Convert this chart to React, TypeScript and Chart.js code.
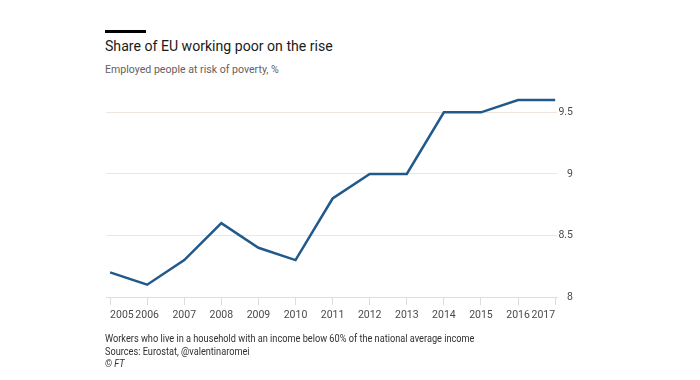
import React, { useEffect, useRef } from "react";
import { Chart, registerables } from "chart.js";

Chart.register(...registerables);

const years = [2005, 2006, 2007, 2008, 2009, 2010, 2011, 2012, 2013, 2014, 2015, 2016, 2017];
const shareWorkingPoor = [8.2, 8.1, 8.3, 8.6, 8.4, 8.3, 8.8, 9.0, 9.0, 9.5, 9.5, 9.6, 9.6];
const yTicks = [8, 8.5, 9, 9.5];

const FONT = "Roboto, 'Noto Sans', sans-serif";

export default function App() {
  const canvasRef = useRef<HTMLCanvasElement | null>(null);

  useEffect(() => {
    document.body.style.margin = "0";
    const ctx = canvasRef.current!.getContext("2d")!;
    const chart = new Chart(ctx, {
      type: "line",
      data: {
        datasets: [
          {
            data: years.map((yr, i) => ({ x: yr, y: shareWorkingPoor[i] })),
            borderColor: "#21598b",
            borderWidth: 2.5,
            pointRadius: 0,
            tension: 0,
            fill: false,
            clip: false as any,
          },
        ],
      },
      options: {
        animation: false,
        responsive: false,
        maintainAspectRatio: false,
        events: [],
        layout: { padding: { left: 106, top: 100, right: 127, bottom: 0 } },
        plugins: { legend: { display: false }, tooltip: { enabled: false } },
        scales: {
          x: {
            type: "linear",
            min: 2004.89,
            max: 2017.05,
            afterBuildTicks: (scale: any) => {
              scale.ticks = years.map((v) => ({ value: v }));
            },
            afterFit: (scale: any) => {
              scale.height = 380 - 297;
            },
            grid: {
              drawOnChartArea: false,
              drawTicks: true,
              tickLength: 8,
              color: "#dcdcdc",
            },
            border: { display: true, color: "#e2dcdc" },
            ticks: {
              align: "inner",
              padding: 4,
              maxRotation: 0,
              autoSkip: false,
              color: "#4a4a4a",
              font: { family: FONT, size: 10.5 },
              callback: (v: any) => String(v),
            },
          },
          y: {
            type: "linear",
            position: "right",
            min: 8,
            max: 9.6,
            afterBuildTicks: (scale: any) => {
              scale.ticks = yTicks.map((v) => ({ value: v }));
            },
            afterFit: (scale: any) => {
              scale.width = 16;
            },
            grid: {
              drawTicks: false,
              color: "#f0e4e0",
              lineWidth: 1,
            },
            border: { display: false },
            ticks: {
              crossAlign: "far",
              padding: 3,
              color: "#4a4a4a",
              font: { family: FONT, size: 10.5 },
              callback: (v: any) => String(v),
            },
          },
        },
      } as any,
    });
    return () => chart.destroy();
  }, []);

  const textBase: React.CSSProperties = {
    position: "absolute",
    left: 105,
    fontFamily: FONT,
    whiteSpace: "nowrap",
    margin: 0,
    transformOrigin: "0 0",
  };

  return (
    <div style={{ position: "relative", width: 700, height: 380, background: "#ffffff", overflow: "hidden" }}>
      <div style={{ position: "absolute", left: 105, top: 30, width: 41, height: 3, background: "#000" }} />
      <div style={{ ...textBase, top: 36, fontSize: 15.5, lineHeight: "20px", color: "#1a1a1a", transform: "scaleX(0.91)" }}>
        Share of EU working poor on the rise
      </div>
      <div style={{ ...textBase, top: 61, fontSize: 11.5, lineHeight: "16px", color: "#66605c", transform: "scaleX(0.92)" }}>
        Employed people at risk of poverty, %
      </div>
      <canvas ref={canvasRef} width={700} height={380} style={{ position: "absolute", left: 0, top: 0 }} />
      <div style={{ ...textBase, top: 333, fontSize: 10.5, lineHeight: "12.7px", color: "#33302e", transform: "scaleX(0.875)" }}>
        <div>Workers who live in a household with an income below 60% of the national average income</div>
        <div>Sources: Eurostat, @valentinaromei</div>
        <div style={{ fontStyle: "italic" }}>© FT</div>
      </div>
    </div>
  );
}
